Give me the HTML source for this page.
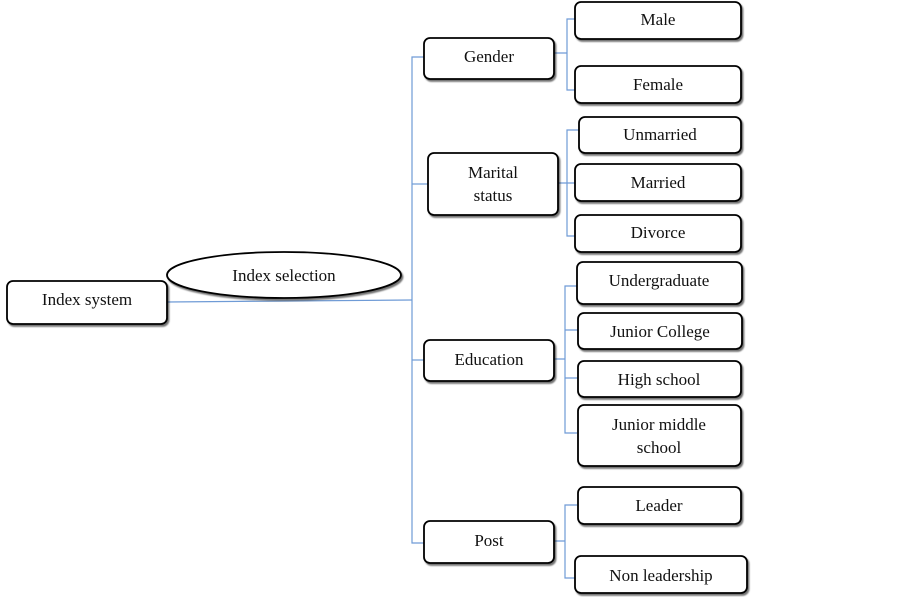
<!DOCTYPE html>
<html><head><meta charset="utf-8"><style>html,body{margin:0;padding:0;background:#fff}svg{display:block}text{font-family:"Liberation Serif",serif;font-size:17px;fill:#111;text-anchor:middle}</style></head>
<body>
<svg width="903" height="597" viewBox="0 0 903 597">
<defs><filter id="s" x="-10%" y="-10%" width="130%" height="140%"><feDropShadow dx="1.5" dy="2" stdDeviation="0.8" flood-color="#000" flood-opacity="0.55"/></filter></defs>
<g fill="none" stroke="#6f9bd6" stroke-width="1.2">
<path d="M167 302 L412 300"/>
<path d="M424 57 H412 V543 H424"/>
<path d="M412 184 H428"/><path d="M412 360 H424"/>
<path d="M554 53 H567 M576 19 H567 V90 H576"/>
<path d="M558 183 H578 M579 130 H567 V236 H576"/>
<path d="M554 359 H565 M577 286 H565 V433 H577 M565 330 H578 M565 378 H578"/>
<path d="M554 541 H565 M577 505 H565 V578 H575"/>
</g>
<g fill="#fff" stroke="#000" stroke-width="1.8" filter="url(#s)">
<rect x="7" y="281" width="160" height="43" rx="6"/>
<ellipse cx="284" cy="275" rx="117" ry="23"/>
<rect x="424" y="38" width="130" height="41" rx="6"/>
<rect x="428" y="153" width="130" height="62" rx="6"/>
<rect x="424" y="340" width="130" height="41" rx="6"/>
<rect x="424" y="521" width="130" height="42" rx="6"/>
<rect x="575" y="2" width="166" height="37" rx="6"/>
<rect x="575" y="66" width="166" height="37" rx="6"/>
<rect x="579" y="117" width="162" height="36" rx="6"/>
<rect x="575" y="164" width="166" height="37" rx="6"/>
<rect x="575" y="215" width="166" height="37" rx="6"/>
<rect x="577" y="262" width="165" height="42" rx="6"/>
<rect x="578" y="313" width="164" height="36" rx="6"/>
<rect x="578" y="361" width="163" height="36" rx="6"/>
<rect x="578" y="405" width="163" height="61" rx="6"/>
<rect x="578" y="487" width="163" height="37" rx="6"/>
<rect x="575" y="556" width="172" height="37" rx="6"/>
</g>
<text x="87" y="305">Index system</text>
<text x="284" y="281">Index selection</text>
<text x="489" y="62">Gender</text>
<text x="493" y="178">Marital</text>
<text x="493" y="201">status</text>
<text x="489" y="365">Education</text>
<text x="489" y="546">Post</text>
<text x="658" y="25">Male</text>
<text x="658" y="90">Female</text>
<text x="660" y="140">Unmarried</text>
<text x="658" y="188">Married</text>
<text x="658" y="238">Divorce</text>
<text x="659" y="286">Undergraduate</text>
<text x="660" y="337">Junior College</text>
<text x="659" y="385">High school</text>
<text x="659" y="430">Junior middle</text>
<text x="659" y="453">school</text>
<text x="659" y="511">Leader</text>
<text x="661" y="581">Non leadership</text>
</svg>
</body></html>
